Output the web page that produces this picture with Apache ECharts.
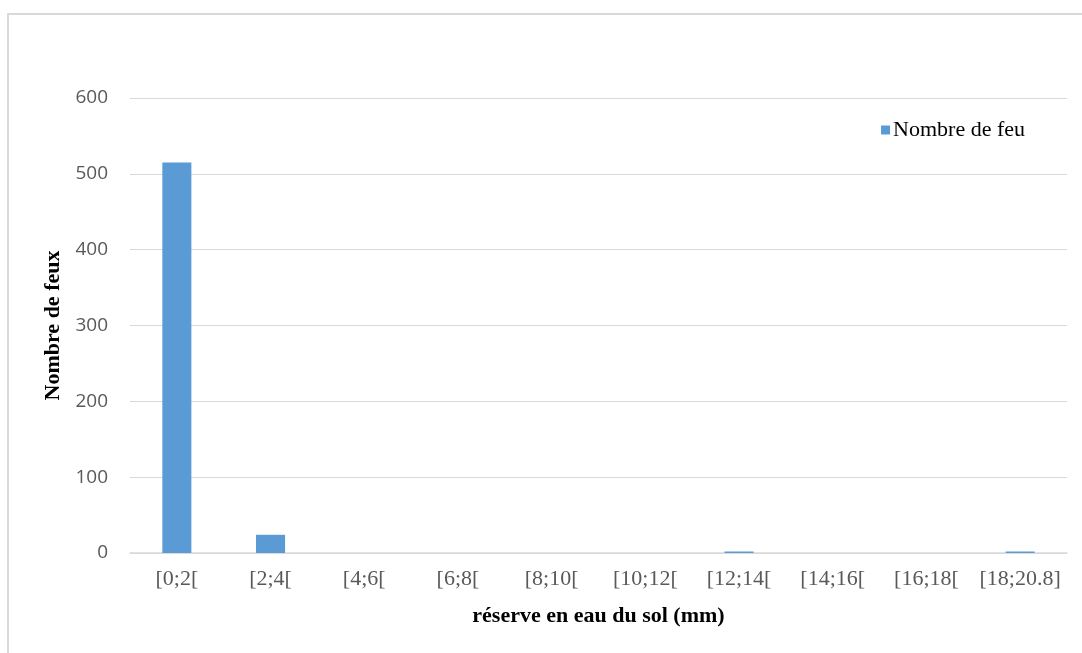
<!DOCTYPE html>
<html>
<head>
<meta charset="utf-8">
<script src="https://cdn.jsdelivr.net/npm/echarts@6/dist/echarts.min.js"></script>
<style>
  html, body { margin: 0; padding: 0; background: #fff; }
  #chart { width: 1082px; height: 653px; }
</style>
</head>
<body>
<div id="chart"></div>
<script>
// classes of soil water reserve (mm)
const classes = ['[0;2[', '[2;4[', '[4;6[', '[6;8[', '[8;10[', '[10;12[', '[12;14[', '[14;16[', '[16;18[', '[18;20.8]']
// number of fires per class
const nbFeux = [515, 24, 0, 0, 0, 0, 2, 0, 0, 2]

const yMin = 0
const yMax = 600
const yStep = 100

const chart = echarts.init(document.getElementById('chart'))

chart.setOption({
    animation: false,
    graphic: [
        {
            type: 'rect',
            shape: { x: 8, y: 14, width: 1100, height: 700 },
            style: { fill: 'none', stroke: '#d9d9d9', lineWidth: 2 },
            silent: true,
        },
    ],
    legend: {
        right: 52,
        top: 114,
        itemWidth: 9,
        itemHeight: 9,
        itemGap: 4,
        icon: 'rect',
        textStyle: { fontFamily: 'Liberation Serif', fontSize: 22, color: '#000', padding: [0, 0, 0, -2] },
    },
    grid: {
        left: 130,
        right: 15,
        top: 98,
        bottom: 100,
    },
    xAxis: {
        type: 'category',
        data: classes,
        name: 'réserve en eau du sol (mm)',
        nameLocation: 'middle',
        nameGap: 52,
        nameTextStyle: { fontFamily: 'Liberation Serif', fontWeight: 'bold', fontSize: 22, color: '#000' },
        axisLine: { lineStyle: { color: '#d9d9d9', width: 1.5 } },
        axisTick: { show: false },
        axisLabel: { fontFamily: 'Liberation Serif', fontSize: 22, color: '#595959', margin: 15, interval: 0 },
    },
    yAxis: {
        type: 'value',
        min: yMin,
        max: yMax,
        interval: yStep,
        name: 'Nombre de feux',
        nameLocation: 'middle',
        nameGap: 66,
        nameTextStyle: { fontFamily: 'Liberation Serif', fontWeight: 'bold', fontSize: 22, color: '#000' },
        axisLine: { show: false },
        axisTick: { show: false },
        axisLabel: { fontFamily: 'Open Sans', fontSize: 19, color: '#595959', margin: 22 },
        splitLine: { lineStyle: { color: '#d9d9d9', width: 1 } },
    },
    series: [
        {
            name: 'Nombre de feu',
            type: 'bar',
            data: nbFeux,
            barWidth: '31%',
            itemStyle: { color: '#5b9bd5' },
        },
    ],
})
</script>
</body>
</html>
